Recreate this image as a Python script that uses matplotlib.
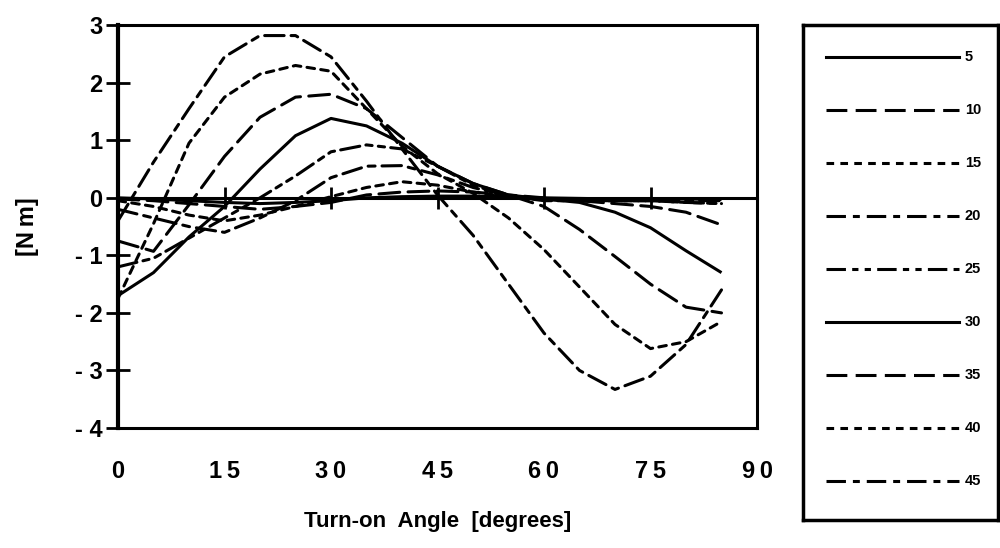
import matplotlib
matplotlib.use("Agg")
from matplotlib import pyplot as plt

plt.rcParams['font.family'] = ['Liberation Sans', 'DejaVu Sans']
plt.rcParams['font.weight'] = 'bold'
plt.rcParams['lines.scale_dashes'] = False

# turn-on angle [deg]
angle = [0, 5, 10, 15, 20, 25, 30, 35, 40, 45, 50, 55, 60, 65, 70, 75, 80, 85]

# torque [Nm], one list per series
t5 = [0.0, -0.02, -0.05, -0.08, -0.1, -0.08, -0.05, 0.0, 0.02, 0.03, 0.03, 0.02, 0.0, -0.01, -0.02, -0.02, -0.02, -0.03]
t10 = [-0.02, -0.05, -0.1, -0.15, -0.2, -0.15, -0.08, 0.05, 0.1, 0.12, 0.1, 0.05, 0.0, -0.05, -0.1, -0.15, -0.25, -0.47]
t15 = [-0.05, -0.15, -0.3, -0.4, -0.3, -0.15, 0.02, 0.18, 0.28, 0.22, 0.1, 0.02, -0.02, -0.05, -0.05, -0.05, -0.08, -0.1]
t20 = [-0.2, -0.35, -0.5, -0.6, -0.35, -0.05, 0.35, 0.55, 0.56, 0.4, 0.18, 0.03, -0.03, -0.05, -0.05, -0.05, -0.05, -0.05]
t25 = [-1.2, -1.05, -0.7, -0.35, 0.0, 0.38, 0.8, 0.92, 0.85, 0.55, 0.22, 0.03, -0.05, -0.05, -0.05, -0.05, -0.08, -0.1]
t30 = [-1.7, -1.3, -0.68, -0.15, 0.5, 1.08, 1.38, 1.25, 0.95, 0.55, 0.25, 0.05, -0.02, -0.08, -0.25, -0.52, -0.92, -1.3]
t35 = [-0.75, -0.93, -0.12, 0.72, 1.4, 1.75, 1.8, 1.55, 1.05, 0.55, 0.25, 0.05, -0.15, -0.55, -1.02, -1.5, -1.9, -2.0]
t40 = [-1.75, -0.45, 0.95, 1.75, 2.15, 2.3, 2.2, 1.55, 0.9, 0.42, 0.08, -0.35, -0.9, -1.55, -2.2, -2.62, -2.5, -2.15]
t45 = [-0.4, 0.62, 1.55, 2.45, 2.82, 2.82, 2.45, 1.68, 0.85, 0.05, -0.65, -1.5, -2.35, -3.0, -3.33, -3.1, -2.55, -1.6]

labels = ['5', '10', '15', '20', '25', '30', '35', '40', '45']
series = [t5, t10, t15, t20, t25, t30, t35, t40, t45]

solid = None
long_dash = (0, (15, 6))
short_dash = (0, (5.5, 4.5))
dash_dot = (0, (14, 5, 5, 5))
dash_dot_dot = (0, (14, 4.5, 4.5, 4.5, 4.5, 4.5))
styles = [solid, long_dash, short_dash, dash_dot, dash_dot_dot,
          solid, long_dash, short_dash, dash_dot]

xticks = [0, 15, 30, 45, 60, 75, 90]
xtick_labels = ['0', '1\u20095', '3\u20090', '4\u20095', '6\u20090', '7\u20095', '9\u20090']
yticks = [-4, -3, -2, -1, 0, 1, 2, 3]
ytick_labels = ['- 4', '- 3', '- 2', '- 1', '0', '1', '2', '3']

fig = plt.figure(figsize=(10, 5.48), dpi=100)
ax = fig.add_axes([0.118, 0.219, 0.639, 0.735])

for vals, ls in zip(series, styles):
    if ls is None:
        ax.plot(angle, vals, color='black', lw=2.2, solid_capstyle='butt')
    else:
        ax.plot(angle, vals, color='black', lw=2.2, linestyle=ls, dash_capstyle='round')

ax.set_xlim(0, 90)
ax.set_ylim(-4, 3)
ax.set_yticks(yticks)
ax.set_yticklabels(ytick_labels)
ax.set_xticks(xticks)
ax.set_xticklabels(xtick_labels)
ax.tick_params(axis='y', direction='inout', length=17, width=2, labelsize=17, pad=2.5)
ax.tick_params(axis='x', length=0, labelsize=17, pad=23)
for side in ['top', 'right', 'bottom']:
    ax.spines[side].set_linewidth(2.2)
ax.spines['left'].set_linewidth(3)

# zero line with crossing ticks
zero = ax.secondary_xaxis(4 / 7)
zero.set_xticks(xticks)
zero.tick_params(direction='inout', length=16, width=2, labelbottom=False, labeltop=False)
zero.spines['bottom'].set_linewidth(2.2)
zero.spines['top'].set_linewidth(2.2)

ax.set_xlabel('Turn-on  Angle  [degrees]', fontsize=16, fontweight='bold')
ax.xaxis.set_label_coords(0.5, -0.205)
ax.set_ylabel('[N\u2009m]', fontsize=17, fontweight='bold', va='center')
ax.yaxis.set_label_coords(-0.141, 0.5)

# legend box
lax = fig.add_axes([0.803, 0.051, 0.195, 0.903])
lax.set_xlim(0, 1)
lax.set_ylim(0, 1)
lax.set_xticks([])
lax.set_yticks([])
for side in lax.spines.values():
    side.set_linewidth(2.5)
for i, (lab, ls) in enumerate(zip(labels, styles)):
    yy = 1 - (32 + i * 53) / 495
    if ls is None:
        lax.plot([0.12, 0.8], [yy, yy], color='black', lw=2.2)
    else:
        lax.plot([0.12, 0.8], [yy, yy], color='black', lw=2.2, linestyle=ls)
    lax.text(0.83, yy, lab, fontsize=10.5, fontweight='bold', va='center', ha='left')

fig.savefig('out.png', dpi=100)
